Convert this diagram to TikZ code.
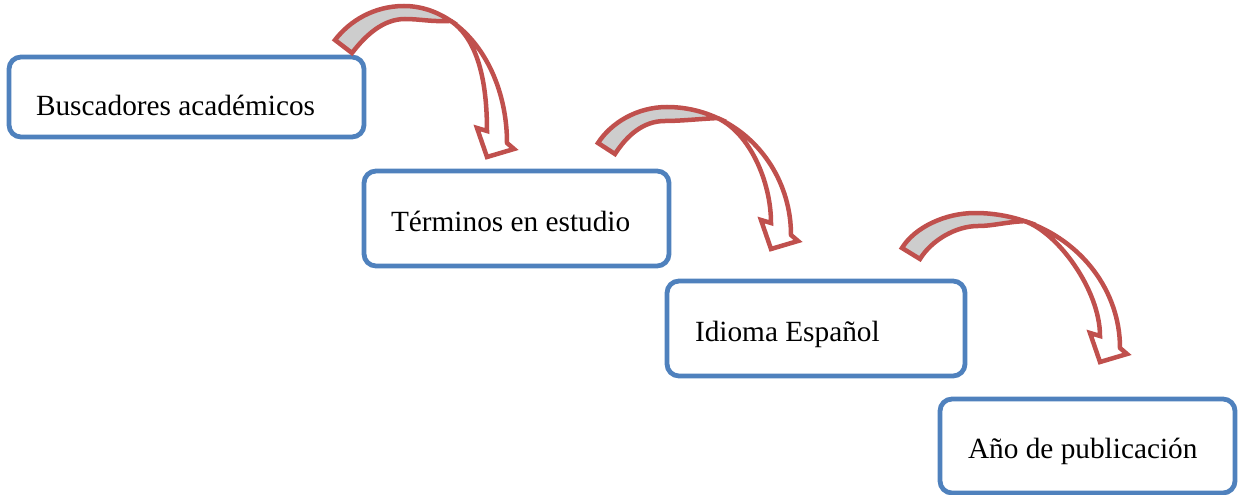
\documentclass[tikz,border=0pt]{standalone}
\usepackage{fontspec}
\setmainfont{Liberation Serif}
\usetikzlibrary{calc}
\definecolor{boxblue}{RGB}{79,129,189}
\definecolor{arrred}{RGB}{192,80,77}
\definecolor{arrgray}{RGB}{205,205,205}
\tikzset{
  box/.style={draw=boxblue, line width=4.8pt, rounded corners=12pt, fill=white, inner sep=0pt, outer sep=0pt, anchor=north west},
  lbl/.style={inner sep=0pt, outer sep=0pt, anchor=base west, font=\fontsize{29.3}{35}\selectfont, text=black},
  garrow/.style={draw=arrred, fill=arrgray, line width=4.5pt},
  farrow/.style={draw=arrred, fill=white, line width=4.5pt},
}
% curved down arrow: #1 prefix, #2 cx, #3 cy, #4 rx, #5 ry (outer ellipse),
% #6 tail outer, #7 tail inner, #8 inner peak, #9 angle where the shaded band ends
\newcommand\cdarrow[9]{%
  \pgfmathsetmacro\cdaA{#9}%
  \pgfmathsetmacro\cdaKa{4/3*tan((90-\cdaA)/4)}%
  \pgfmathsetmacro\cdaKb{4/3*tan(\cdaA/4)}%
  \pgfmathsetmacro\cdaMx{#2+#4*cos(\cdaA)}%
  \pgfmathsetmacro\cdaMy{#3-#5*sin(\cdaA)}%
  \pgfmathsetmacro\cdaL{veclen(#4*sin(\cdaA),#5*cos(\cdaA))}%
  \pgfmathsetmacro\cdaTx{#4*sin(\cdaA)/\cdaL}%
  \pgfmathsetmacro\cdaTy{#5*cos(\cdaA)/\cdaL}%
  \pgfmathsetmacro\cdaLy{#3-12-0.4*(#3-12-\cdaMy)}%
  \coordinate (#1T1) at (#6);
  \coordinate (#1T2) at (#7);
  \coordinate (#1IP) at (#8);
  \coordinate (#1P) at ({#2},{#3-#5});
  \coordinate (#1M) at (\cdaMx,\cdaMy);
  \coordinate (#1R) at ({#2+#4},{#3});
  \coordinate (#1L) at ({#2+#4-20},{#3-12});
  \draw[garrow] (#1T1) .. controls ($(#1T1)!24pt!90:(#1T2)$) and ($(#1P)+(-30,0)$) .. (#1P)
    .. controls ({#2+#4*\cdaKa},{#3-#5}) and ({#2+#4*(cos(\cdaA)-\cdaKa*sin(\cdaA))},{#3-#5*(sin(\cdaA)+\cdaKa*cos(\cdaA))}) .. (#1M)
    .. controls ($(#1M)+(-20,1)$) and ($(#1IP)+(15,0)$) .. (#1IP)
    .. controls ($(#1IP)+(-22,0)$) and ($(#1T2)!22pt!-90:(#1T1)$) .. (#1T2) -- cycle;
  \draw[farrow] (#1M)
    .. controls ({#2+#4*(cos(\cdaA)+\cdaKb*sin(\cdaA))},{#3-#5*(sin(\cdaA)-\cdaKb*cos(\cdaA))}) and ({#2+#4},{#3-#5*\cdaKb}) .. (#1R)
    -- ($(#1R)+(7,6)$) -- ($(#1R)+(-20,14)$) -- ($(#1R)+(-30,-15)$) -- (#1L)
    .. controls ({#2+#4-20},{\cdaLy}) and ($(#1M)+({35*\cdaTx},{35*\cdaTy})$) .. (#1M) -- cycle;
}
\begin{document}
\begin{tikzpicture}[x=1pt,y=-1pt]
\useasboundingbox (0,0) rectangle (1243,495);
% boxes
\node[box, minimum width=355pt, minimum height=80pt] (b1) at (9,57) {};
\node[lbl] (t1) at (36,115) {Buscadores académicos};
\node[box, minimum width=305pt, minimum height=95pt] (b2) at (364,171) {};
\node[lbl] (t2) at (391,231) {Términos en estudio};
\node[box, minimum width=298pt, minimum height=95pt] (b3) at (667,281) {};
\node[lbl] (t3) at (695,341) {Idioma Español};
\node[box, minimum width=295pt, minimum height=94pt] (b4) at (940,399) {};
\node[lbl] (t4) at (968,458) {Año de publicación};
% arrows
\cdarrow{a}{404}{143}{103}{137}{335,40}{352,53}{405,19}{63}
\cdarrow{b}{667}{235}{124}{128}{598,143}{615,154}{665,121}{66}
\cdarrow{c}{975}{348}{145}{135}{902,248}{920,259}{978,226}{70}
\end{tikzpicture}
\end{document}
